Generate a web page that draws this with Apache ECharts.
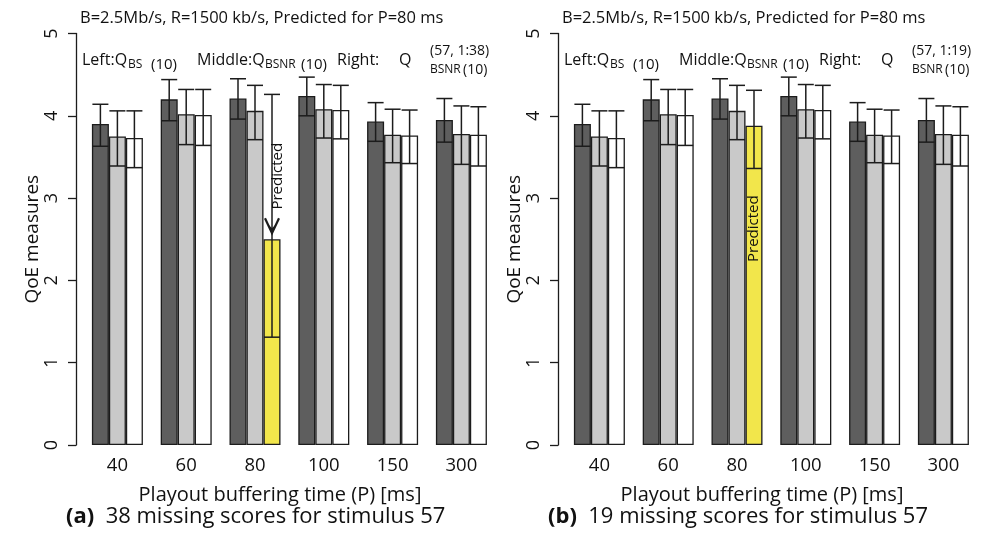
<!DOCTYPE html>
<html>
<head>
<meta charset="utf-8">
<script src="https://cdn.jsdelivr.net/npm/echarts@6/dist/echarts.min.js"></script>
<style>
  html, body { margin: 0; padding: 0; background: #fff; }
  #chart { width: 988px; height: 538px; }
</style>
</head>
<body>
<div id="chart"></div>
<script>
const categories = ['40', '60', '80', '100', '150', '300'];

// left bars: Q_BS(10)
const bsMean = [3.90, 4.20, 4.21, 4.24, 3.93, 3.95];
const bsLow  = [3.63, 3.94, 3.96, 4.00, 3.69, 3.68];
const bsHigh = [4.14, 4.44, 4.45, 4.47, 4.16, 4.21];
// middle bars: Q_BSNR(10)
const bsnrMean = [3.75, 4.02, 4.06, 4.08, 3.77, 3.78];
const bsnrLow  = [3.39, 3.65, 3.71, 3.73, 3.43, 3.41];
const bsnrHigh = [4.06, 4.32, 4.37, 4.38, 4.08, 4.12];
// right bars, panel (a): Q_BSNR(10)^(57,1:38)
const predAMean = [3.73, 4.01, 2.50, 4.07, 3.76, 3.77];
const predALow  = [3.37, 3.64, 1.31, 3.72, 3.42, 3.39];
const predAHigh = [4.06, 4.32, 4.26, 4.37, 4.07, 4.11];
// right bars, panel (b): Q_BSNR(10)^(57,1:19)
const predBMean = [3.73, 4.01, 3.88, 4.07, 3.76, 3.77];
const predBLow  = [3.37, 3.64, 3.36, 3.72, 3.42, 3.39];
const predBHigh = [4.06, 4.32, 4.31, 4.37, 4.07, 4.11];
const predictedIndex = 2;

const FONT = '"Open Sans", "Noto Sans", sans-serif';
const BAR_W = 17;
const EDGE = '#1c1c1c';
const panelLeft = [83, 565];

const chart = echarts.init(document.getElementById('chart'));

function barSeries(values, color, gi, highlight) {
  return {
    type: 'bar',
    xAxisIndex: gi,
    yAxisIndex: gi,
    barWidth: BAR_W,
    barGap: '0%',
    silent: true,
    itemStyle: { color: color, borderColor: EDGE, borderWidth: 1.3 },
    data: values.map((v, i) => (highlight && i === predictedIndex)
      ? { value: v, itemStyle: { color: '#f2e64b' } }
      : v)
  };
}

function errSeries(low, high, offset, gi) {
  return {
    type: 'custom',
    xAxisIndex: gi,
    yAxisIndex: gi,
    z: 5,
    silent: true,
    data: low.map((l, i) => [i, l, high[i]]),
    encode: { x: 0, y: [1, 2] },
    renderItem: function (params, api) {
      const lo = api.coord([api.value(0), api.value(1)]);
      const hi = api.coord([api.value(0), api.value(2)]);
      const x = lo[0] + offset;
      const st = { stroke: EDGE, lineWidth: 1.5 };
      const cap = 8;
      return {
        type: 'group',
        children: [
          { type: 'line', shape: { x1: x, y1: lo[1], x2: x, y2: hi[1] }, style: st },
          { type: 'line', shape: { x1: x - cap, y1: hi[1], x2: x + cap, y2: hi[1] }, style: st },
          { type: 'line', shape: { x1: x - cap, y1: lo[1], x2: x + cap, y2: lo[1] }, style: st }
        ]
      };
    }
  };
}

// "Predicted" marker for panel (a): arrow down onto the yellow bar
const predArrowSeries = {
  type: 'custom',
  xAxisIndex: 0,
  yAxisIndex: 0,
  z: 6,
  silent: true,
  data: [[predictedIndex, predAMean[predictedIndex]]],
  renderItem: function (params, api) {
    const p = api.coord([api.value(0), api.value(1)]);
    const x = p[0] + BAR_W;
    const tip = p[1] - 6;
    return {
      type: 'group',
      children: [
        { type: 'polyline', shape: { points: [[x - 7, tip - 15], [x, tip], [x + 7, tip - 15]] },
          style: { stroke: EDGE, lineWidth: 2.2, fill: null } },
        { type: 'polygon', shape: { points: [[x - 4, tip - 9], [x, tip], [x + 4, tip - 9], [x, tip - 5]] },
          style: { fill: EDGE } },
        { type: 'text', x: x + 6, y: p[1] - 63, rotation: Math.PI / 2,
          style: { text: 'Predicted', fontSize: 15, fontFamily: FONT, fill: '#111', align: 'center', verticalAlign: 'middle' } }
      ]
    };
  }
};

// "Predicted" label inside the yellow bar of panel (b)
const predLabelSeries = {
  type: 'custom',
  xAxisIndex: 1,
  yAxisIndex: 1,
  z: 6,
  silent: true,
  data: [[predictedIndex, predBMean[predictedIndex]]],
  renderItem: function (params, api) {
    const p = api.coord([api.value(0), api.value(1)]);
    return {
      type: 'text', x: p[0] + BAR_W, y: p[1] + 103, rotation: Math.PI / 2,
      style: { text: 'Predicted', fontSize: 15, fontFamily: FONT, fill: '#111', align: 'center', verticalAlign: 'middle' }
    };
  }
};

function xAxisFor(gi) {
  return {
    type: 'category',
    gridIndex: gi,
    data: categories,
    axisLine: { show: false },
    axisTick: { show: false },
    axisLabel: { fontSize: 18.5, fontFamily: FONT, color: '#111', margin: 11 }
  };
}

function yAxisFor(gi) {
  return {
    type: 'value',
    gridIndex: gi,
    min: 0,
    max: 5,
    interval: 1,
    offset: 7,
    axisLine: { show: true, lineStyle: { color: EDGE, width: 1.3 } },
    axisTick: { show: true, length: 8, lineStyle: { color: EDGE, width: 1.3 } },
    splitLine: { show: false },
    axisLabel: { rotate: 90, fontSize: 18, fontFamily: FONT, color: '#111', margin: 15 },
    name: 'QoE measures',
    nameLocation: 'middle',
    nameGap: 30,
    nameTextStyle: { fontSize: 19, fontFamily: FONT, color: '#111' }
  };
}

function txt(x, y, s, size, extra) {
  return {
    type: 'text', x: x, y: y,
    style: Object.assign({ text: s, fontSize: size, fontFamily: FONT, fill: '#111', verticalAlign: 'middle' }, extra || {})
  };
}

function panelTexts(dx, superTxt, letter, caption) {
  return [
    txt(80 + dx, 18, 'B=2.5Mb/s, R=1500 kb/s, Predicted for P=80 ms', 16.5),
    txt(82 + dx, 60, 'Left:Q', 16),
    txt(128 + dx, 65, 'BS', 12),
    txt(151 + dx, 65, '(10)', 15),
    txt(197 + dx, 60, 'Middle:Q', 16),
    txt(265 + dx, 65, 'BSNR', 12),
    txt(301 + dx, 65, '(10)', 15),
    txt(337 + dx, 60, 'Right:', 16),
    txt(399 + dx, 60, 'Q', 16),
    txt(430 + dx, 51, superTxt, 14),
    txt(430 + dx, 70, 'BSNR', 12),
    txt(463 + dx, 70, '(10)', 14),
    txt(280 + dx, 495, 'Playout buffering time (P) [ms]', 20, { align: 'center' }),
    {
      type: 'text', x: 66 + dx, y: 517,
      style: {
        text: '{b|(' + letter + ')}  ' + caption,
        fontSize: 22, fontFamily: FONT, fill: '#111', verticalAlign: 'middle',
        rich: { b: { fontWeight: 'bold', fontSize: 22, fontFamily: FONT, fill: '#111' } }
      }
    }
  ];
}

const gridW = 6 * 68.8;
const option = {
  backgroundColor: '#fff',
  animation: false,
  grid: [
    { left: panelLeft[0], top: 33.5, width: gridW, height: 411.5 },
    { left: panelLeft[1], top: 33.5, width: gridW, height: 411.5 }
  ],
  xAxis: [xAxisFor(0), xAxisFor(1)],
  yAxis: [yAxisFor(0), yAxisFor(1)],
  series: [
    barSeries(bsMean, '#5e5e5e', 0, false),
    barSeries(bsnrMean, '#c9c9c9', 0, false),
    barSeries(predAMean, '#ffffff', 0, true),
    errSeries(bsLow, bsHigh, -BAR_W, 0),
    errSeries(bsnrLow, bsnrHigh, 0, 0),
    errSeries(predALow, predAHigh, BAR_W, 0),
    predArrowSeries,
    barSeries(bsMean, '#5e5e5e', 1, false),
    barSeries(bsnrMean, '#c9c9c9', 1, false),
    barSeries(predBMean, '#ffffff', 1, true),
    errSeries(bsLow, bsHigh, -BAR_W, 1),
    errSeries(bsnrLow, bsnrHigh, 0, 1),
    errSeries(predBLow, predBHigh, BAR_W, 1),
    predLabelSeries
  ],
  graphic: panelTexts(0, '(57, 1:38)', 'a', '38 missing scores for stimulus 57')
    .concat(panelTexts(482, '(57, 1:19)', 'b', '19 missing scores for stimulus 57'))
};

chart.setOption(option);
window.addEventListener('resize', () => chart.resize());
</script>
</body>
</html>
